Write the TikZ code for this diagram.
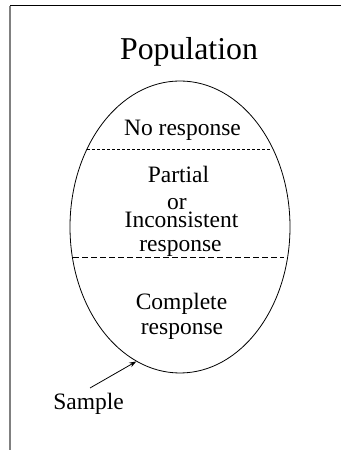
\documentclass[tikz,border=0pt]{standalone}
\usepackage{fontspec}
\setmainfont{Liberation Serif}
\usetikzlibrary{shapes.geometric,arrows.meta}
\begin{document}
\begin{tikzpicture}[x=1pt,y=1pt,
  lbl/.style={anchor=base,inner sep=0pt,font=\fontsize{23.5}{26}\selectfont},
  ttl/.style={anchor=base,inner sep=0pt,font=\fontsize{31.8}{34}\selectfont},
  thin line/.style={line width=0.8pt}]
\useasboundingbox (0,0) rectangle (341,450);
% frame
\draw[line width=1pt] (10,444) -- (341,444);
\draw[line width=1.2pt,gray] (10,444) -- (10,0);
% ellipse
\node[ellipse,draw,thin line,minimum width=220pt,minimum height=292pt,inner sep=0pt] (ell) at (180,223) {};
% dividers
\coordinate (d1l) at (87,301);
\coordinate (d1r) at (271,301);
\coordinate (d2l) at (73,193);
\coordinate (d2r) at (284,193);
\draw[thin line,dash pattern=on 3pt off 2pt] (d1l) -- (d1r);
\draw[thin line,dash pattern=on 6pt off 3pt] (d2l) -- (d2r);
% texts
\node[ttl] (pop) at (189,390) {Population};
\node[lbl] (nr) at (182.5,314) {No response};
\node[lbl] (p1) at (178.5,267) {Partial};
\node[lbl] (p2) at (177,240) {or};
\node[lbl] (p3) at (181.5,222) {Inconsistent};
\node[lbl] (p4) at (180.5,198) {response};
\node[lbl] (c1) at (181.5,140) {Complete};
\node[lbl] (c2) at (182,115) {response};
\node[lbl] (smp) at (88.5,40) {Sample};
% arrow
\coordinate (st) at (90,62);
\draw[thin line,-{Stealth[length=7pt,width=5pt]}] (st) -- (ell.252);
\end{tikzpicture}
\end{document}
